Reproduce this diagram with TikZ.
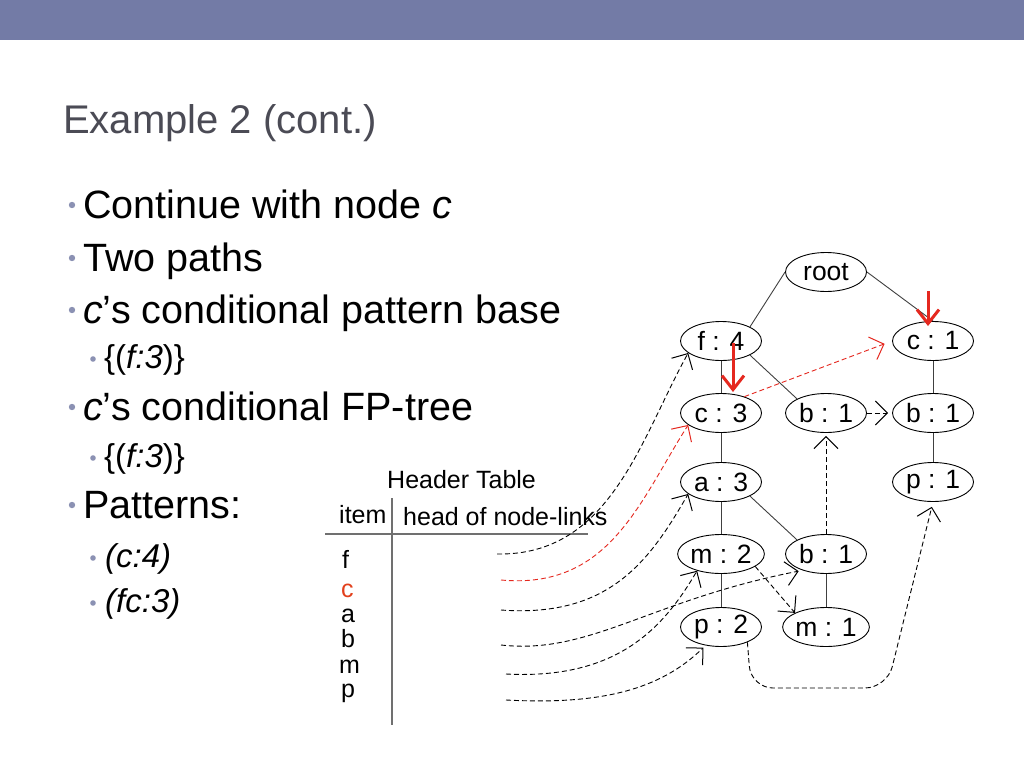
\documentclass[tikz,border=0pt]{standalone}
\usepackage{fontspec}
\setmainfont{Liberation Sans}
\usetikzlibrary{shapes.geometric,arrows.meta}
\definecolor{barblue}{HTML}{737BA6}
\definecolor{titlegray}{HTML}{4B4B55}
\definecolor{dotgray}{HTML}{8B91B3}
\definecolor{linkred}{HTML}{E5281F}
\definecolor{itemred}{HTML}{E2401C}
\definecolor{rulegray}{HTML}{707070}

\begin{document}
\begin{tikzpicture}[x=1pt,y=-1pt,
	treenode/.style={ellipse,draw,line width=0.9pt,minimum width=81pt,minimum height=39pt,inner sep=0pt,font=\fontsize{26.5}{30}\selectfont},
	treeedge/.style={draw,line width=0.9pt,black!75},
	nodelink/.style={draw,line width=0.9pt,dash pattern=on 5pt off 3pt,-{Straight Barb[length=12pt,width=24pt,line width=1pt]}},
	pointer/.style={draw,linkred,line width=3pt,-{Straight Barb[length=14pt,width=22pt]}},
	txt/.style={anchor=base west,inner sep=0pt},
	bodytxt/.style={txt,font=\fontsize{39.5}{45}\selectfont},
	subtxt/.style={txt,font=\fontsize{33}{38}\selectfont},
	smalltxt/.style={txt,font=\fontsize{25}{30}\selectfont}]

	\useasboundingbox[fill=white] (0,0) rectangle (1024,768);
	\fill[barblue] (0,0) rectangle (1024,40);

	% title and bullets
	\node[txt,titlegray,font=\fontsize{40}{46}\selectfont] (title) at (63,133) {Example 2 (cont.)};

	\foreach \y in {205,258,310,407,505} \fill[dotgray] (72,\y) circle (3.2pt);
	\foreach \y in {359,458,558,603} \fill[dotgray] (93,\y) circle (2.8pt);

	\node[bodytxt] (l1) at (83,218) {Continue with node \textit{c}};
	\node[bodytxt] (l2) at (83,271) {Two paths};
	\node[bodytxt] (l3) at (83,323) {\textit{c}’s conditional pattern base};
	\node[subtxt] (l4) at (104,368) {\{(\textit{f:3})\}};
	\node[bodytxt] (l5) at (83,420) {\textit{c}’s conditional FP-tree};
	\node[subtxt] (l6) at (104,467) {\{(\textit{f:3})\}};
	\node[bodytxt] (l7) at (83,518) {Patterns:};
	\node[subtxt] (l8) at (105,567) {\textit{(c:4)}};
	\node[subtxt] (l9) at (105,612) {\textit{(fc:3)}};

	% header table
	\node[smalltxt] (htitle) at (387,488) {Header Table};
	\node[smalltxt] (hitem) at (339,523) {item};
	\node[smalltxt] (hhead) at (403,525) {head of node-links};
	\draw[rulegray,line width=1.8pt] (325,534) -- (588,534);
	\draw[rulegray,line width=1.8pt] (392,498) -- (392,725);

	\node[smalltxt] (if) at (342,568) {f};
	\node[smalltxt,itemred] (ic) at (341,597) {c};
	\node[smalltxt] (ia) at (341,622) {a};
	\node[smalltxt] (ib) at (341,647) {b};
	\node[smalltxt] (im) at (339,673) {m};
	\node[smalltxt] (ip) at (341,697) {p};

	\coordinate (hf) at (497,554);
	\coordinate (hc) at (501,580);
	\coordinate (ha) at (501,610);
	\coordinate (hb) at (501,645);
	\coordinate (hm) at (506,674);
	\coordinate (hp) at (506,700);

	% FP-tree
	\node[treenode] (root) at (826,272) {root};
	\node[treenode] (f4) at (721,341) {f : 4};
	\node[treenode] (c1) at (933,341) {c : 1};
	\node[treenode] (c3) at (721,413) {c : 3};
	\node[treenode] (bm) at (826,413) {b : 1};
	\node[treenode] (br) at (933,413) {b : 1};
	\node[treenode] (a3) at (721,482) {a : 3};
	\node[treenode] (p1) at (933,482) {p : 1};
	\node[treenode] (m2) at (721,554) {m : 2};
	\node[treenode] (bl) at (826,554) {b : 1};
	\node[treenode] (p2) at (721,627) {p : 2};
	\node[treenode] (m1) at (826,627) {m : 1};

	\path[treeedge] (root.west) -- (f4.north east);
	\path[treeedge] (root.east) -- (c1.north);
	\path[treeedge] (f4.south) -- (c3.north);
	\path[treeedge] (f4.south east) -- (bm.north west);
	\path[treeedge] (c1.south) -- (br.north);
	\path[treeedge] (br.south) -- (p1.north);
	\path[treeedge] (c3.south) -- (a3.north);
	\path[treeedge] (a3.south) -- (m2.north);
	\path[treeedge] (a3.south east) -- (bl.north west);
	\path[treeedge] (m2.south) -- (p2.north);
	\path[treeedge] (bl.south) -- (m1.north);

	% node-links
	\path[nodelink] (hf) .. controls (610,556) and (640,440) .. (f4.200);
	\path[nodelink,linkred] (hc) .. controls (610,590) and (640,500) .. (c3.200);
	\path[nodelink] (ha) .. controls (610,618) and (650,560) .. (a3.200);
	\path[nodelink,shorten >=4pt] (hb) .. controls (590,655) and (650,600) .. (bl.215);
	\path[nodelink] (hm) .. controls (620,680) and (665,625) .. (m2.215);
	\path[nodelink,shorten >=3pt] (hp) .. controls (600,705) and (660,690) .. (p2.230);

	\path[nodelink,linkred,shorten >=8pt] (c3.35) -- (c1.west);
	\path[nodelink,shorten >=4pt] (bm.east) -- (br.west);
	\path[nodelink,shorten >=3pt] (bl.north) -- (bm.south);
	\path[nodelink] (m2.-20) -- (m1.north west);
	\path[nodelink,rounded corners=22pt,shorten >=5pt] (p2.-30) -- (751,688) -- (887,688) -- (p1.south);

	% pointers
	\coordinate (ptrA) at (928,291);
	\coordinate (ptrB) at (733,343);
	\path[pointer] (ptrA) -- ++(0,35);
	\path[pointer] (ptrB) -- ++(0,49);
\end{tikzpicture}
\end{document}
